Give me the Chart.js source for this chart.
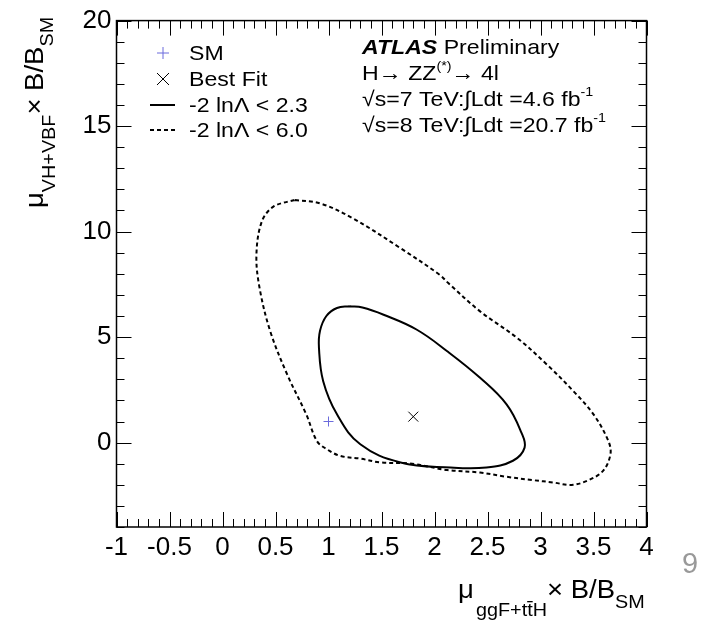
<!DOCTYPE html>
<html>
<head>
<meta charset="utf-8">
<script src="https://cdn.jsdelivr.net/npm/chart.js@4.4.0/dist/chart.umd.min.js"></script>
<style>
  body { margin: 0; background: #fff; }
  #wrap { width: 707px; height: 620px; }
</style>
</head>
<body>
<div id="wrap"><canvas id="contourChart" width="707" height="620"></canvas></div>
<script>
// axis ticks
const xTicks = [-1, -0.5, 0, 0.5, 1, 1.5, 2, 2.5, 3, 3.5, 4];
const yTicks = [0, 5, 10, 15, 20];

// markers
const smX = [1.0];
const smY = [1.0];
const bestX = [1.80];
const bestY = [1.23];

// -2 lnL < 2.3 contour (closed)
const solidX = [1.20, 1.08, 0.98, 0.92, 0.91, 0.95, 1.08, 1.30, 1.68, 2.15, 2.49, 2.74, 2.85, 2.82, 2.68, 2.43, 2.12, 1.83, 1.52, 1.32, 1.20];
const solidY = [6.46, 6.38, 6.0, 5.3, 4.49, 2.91, 1.34, -0.08, -0.94, -1.18, -1.18, -0.86, -0.24, 0.47, 1.81, 3.07, 4.33, 5.36, 6.06, 6.40, 6.46];

// -2 lnL < 6.0 contour (closed)
const dashX = [0.68, 0.48, 0.37, 0.32, 0.35, 0.45, 0.61, 0.79, 0.89, 0.98, 1.11, 1.30, 1.49, 1.77, 2.12, 2.43, 2.68, 2.93, 3.12, 3.29, 3.44, 3.59, 3.66, 3.64, 3.50, 3.31, 3.06, 2.78, 2.43, 2.13, 2.05, 1.68, 1.23, 0.92, 0.68];
const dashY = [11.5, 11.18, 10.47, 8.9, 7.32, 5.28, 3.23, 1.34, 0.08, -0.30, -0.63, -0.76, -0.94, -0.99, -1.30, -1.42, -1.62, -1.78, -1.89, -2.01, -1.81, -1.34, -0.55, 0.08, 1.34, 2.44, 3.70, 4.96, 6.22, 7.56, 7.95, 9.21, 10.63, 11.34, 11.5];

const FONT = 'Liberation Sans, Arial, Helvetica, sans-serif';

function toPoints(xs, ys) {
    return xs.map((x, i) => ({ x: x, y: ys[i] }));
}

// draws frame, inward ticks, legend and labels (ROOT style)
const decorations = {
    id: 'decorations',
    afterDraw(chart) {
        const ctx = chart.ctx;
        const xs = chart.scales.x, ys = chart.scales.y;
        const a = chart.chartArea;
        ctx.save();
        ctx.strokeStyle = '#000';
        ctx.lineWidth = 1.5;
        ctx.strokeRect(a.left, a.top, a.right - a.left, a.bottom - a.top);

        // x ticks, every 0.1 with majors at 0.5
        ctx.lineWidth = 1;
        for (let i = -10; i <= 40; i++) {
            const v = i / 10;
            const px = Math.round(xs.getPixelForValue(v)) + 0.5;
            const len = (i % 5 === 0) ? 15 : 8;
            ctx.beginPath();
            ctx.moveTo(px, a.bottom); ctx.lineTo(px, a.bottom - len);
            ctx.moveTo(px, a.top); ctx.lineTo(px, a.top + len);
            ctx.stroke();
        }
        // y ticks, every 1 with majors at 5
        for (let v = -4; v <= 20; v++) {
            const py = Math.round(ys.getPixelForValue(v)) + 0.5;
            const len = (v % 5 === 0) ? 15 : 8;
            ctx.beginPath();
            ctx.moveTo(a.left, py); ctx.lineTo(a.left + len, py);
            ctx.moveTo(a.right, py); ctx.lineTo(a.right - len, py);
            ctx.stroke();
        }

        // text pieces with a slight horizontal stretch, like the original
        function runs(parts, x0, base, sx) {
            let cx = x0;
            parts.forEach(p => {
                ctx.font = (p.bold ? 'italic bold ' : '') + (p.size || 21) + 'px ' + FONT;
                ctx.save();
                ctx.translate(cx, base + (p.dy || 0));
                ctx.scale(sx, 1);
                ctx.fillText(p.t, 0, 0);
                ctx.restore();
                cx += ctx.measureText(p.t).width * sx;
            });
        }

        // legend
        ctx.fillStyle = '#000';
        ctx.textAlign = 'left';
        ctx.textBaseline = 'alphabetic';
        ctx.strokeStyle = '#6b6bdc';
        ctx.beginPath();
        ctx.moveTo(157, 53); ctx.lineTo(169, 53);
        ctx.moveTo(163, 47); ctx.lineTo(163, 59);
        ctx.stroke();
        runs([{ t: 'SM' }], 189, 60, 1.1);
        ctx.strokeStyle = '#000';
        ctx.beginPath();
        ctx.moveTo(157, 73); ctx.lineTo(169, 85);
        ctx.moveTo(169, 73); ctx.lineTo(157, 85);
        ctx.stroke();
        runs([{ t: 'Best Fit' }], 189, 86, 1.1);
        ctx.lineWidth = 2;
        ctx.beginPath();
        ctx.moveTo(150, 105); ctx.lineTo(175, 105);
        ctx.stroke();
        runs([{ t: '-2 ln\u039B < 2.3' }], 189, 112, 1.1);
        ctx.setLineDash([4, 3]);
        ctx.beginPath();
        ctx.moveTo(150, 130); ctx.lineTo(175, 130);
        ctx.stroke();
        ctx.setLineDash([]);
        runs([{ t: '-2 ln\u039B < 6.0' }], 189, 137, 1.1);

        // ATLAS label block
        runs([{ t: 'ATLAS', bold: true }, { t: ' Preliminary' }], 362, 54, 1.1);
        runs([{ t: 'H\u2192 ZZ' }, { t: '(*)', size: 13, dy: -10 }, { t: '\u2192 4l' }], 362, 80, 1.1);
        runs([{ t: '\u221As=7 TeV:\u222BLdt =4.6 fb' }, { t: '-1', size: 13, dy: -10 }], 362, 106, 1.1);
        runs([{ t: '\u221As=8 TeV:\u222BLdt =20.7 fb' }, { t: '-1', size: 13, dy: -10 }], 362, 132, 1.1);

        // x axis title
        runs([{ t: '\u03BC', size: 25 }], 458, 598, 1.1);
        ctx.font = '18px ' + FONT;
        const subStart = 476;
        const wT = ctx.measureText('t').width * 1.1;
        const wAll = ctx.measureText('ggF+tt').width * 1.1;
        runs([{ t: 'ggF+tt', size: 18 }, { t: 'H', size: 18 }], subStart, 616, 1.1);
        ctx.fillRect(subStart + wAll - wT, 601, wT, 1.3);
        ctx.font = '18px ' + FONT;
        const subEnd = subStart + wAll + ctx.measureText('H').width * 1.1;
        runs([{ t: '\u00D7 B/B', size: 25 }, { t: 'SM', size: 18, dy: 10 }], subEnd, 598, 1.1);

        // y axis title
        ctx.save();
        ctx.translate(43, 208);
        ctx.rotate(-Math.PI / 2);
        runs([{ t: '\u03BC', size: 25 }, { t: 'VH+VBF', size: 18, dy: 12 }, { t: '\u00D7 B/B', size: 25 }, { t: 'SM', size: 18, dy: 10 }], 0, 0, 1.1);
        ctx.restore();

        // page number
        ctx.fillStyle = '#999';
        ctx.font = '29px ' + FONT;
        ctx.fillText('9', 682, 573);
        ctx.restore();
    }
};

let ctx = document.getElementById('contourChart').getContext('2d');
let contourChart = new Chart(ctx, {
    type: 'scatter',
    data: {
        datasets: [{
            label: '-2 lnL < 6.0',
            data: toPoints(dashX, dashY),
            showLine: true,
            borderColor: '#000',
            borderWidth: 2,
            borderDash: [4, 3],
            pointRadius: 0,
            tension: 0.35
        }, {
            label: '-2 lnL < 2.3',
            data: toPoints(solidX, solidY),
            showLine: true,
            borderColor: '#000',
            borderWidth: 2,
            pointRadius: 0,
            tension: 0.4
        }, {
            label: 'SM',
            data: toPoints(smX, smY),
            pointStyle: 'cross',
            pointRadius: 5,
            borderColor: '#6b6bdc',
            borderWidth: 1
        }, {
            label: 'Best Fit',
            data: toPoints(bestX, bestY),
            pointStyle: 'crossRot',
            pointRadius: 7,
            borderColor: '#000',
            borderWidth: 1
        }]
    },
    options: {
        responsive: false,
        animation: false,
        layout: { padding: { top: 17, right: 60.5, left: 0, bottom: 0 } },
        plugins: {
            legend: { display: false },
            tooltip: { enabled: false }
        },
        scales: {
            x: {
                type: 'linear',
                min: -1,
                max: 4,
                afterBuildTicks: s => { s.ticks = xTicks.map(v => ({ value: v })); },
                afterFit: s => { s.height = 93; },
                grid: { display: true, drawOnChartArea: false, drawTicks: false },
                border: { display: false },
                ticks: {
                    color: '#000', font: { size: 26, family: FONT }, padding: 5, maxRotation: 0, autoSkip: false,
                    callback: v => String(v)
                }
            },
            y: {
                type: 'linear',
                min: -4,
                max: 20,
                afterBuildTicks: s => { s.ticks = yTicks.map(v => ({ value: v })); },
                afterFit: s => { s.width = 116.5; },
                grid: { display: true, drawOnChartArea: false, drawTicks: false },
                border: { display: false },
                ticks: { color: '#000', font: { size: 26, family: FONT }, padding: 5, callback: v => String(v) }
            }
        }
    },
    plugins: [decorations]
});
</script>
</body>
</html>
